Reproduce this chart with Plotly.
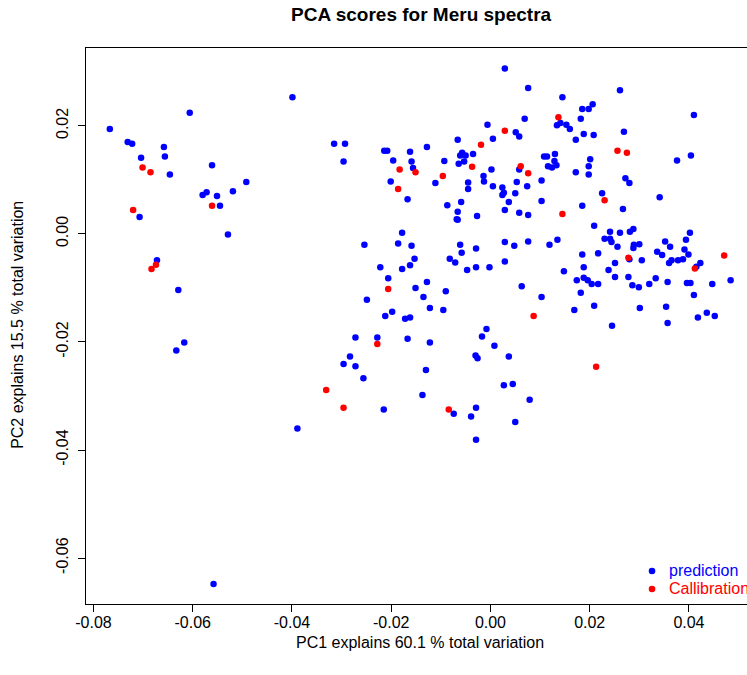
import plotly.graph_objects as go

# ---- data (PC scores) ----
prediction_pc1 = [
    -0.0767, -0.0731, -0.0722, -0.0658, -0.0656, -0.0704, -0.0646, -0.0606, -0.0561, -0.0492,
    -0.0519, -0.0580, -0.0572, -0.0551, -0.0545, -0.0707, -0.0529, -0.0672, -0.0629, -0.0617,
    -0.0633, -0.0389, -0.0558,
    -0.0399, -0.0315, -0.0293, -0.0296, -0.0214, -0.0208, -0.0162, -0.0128, -0.0196, -0.0159,
    -0.0156, -0.0201, -0.0167, -0.0178, -0.0254, -0.0186, -0.0159,
    0.0029, 0.0076, 0.0145, 0.0069, -0.0006, 0.0134, 0.0141, 0.0153, 0.0160, 0.0051,
    0.0058, 0.0005, -0.0066, -0.0057, -0.0061, -0.0050, -0.0053, -0.0064, -0.0035, -0.0093,
    0.0108, 0.0114, 0.0130, 0.0129, 0.0116, 0.0124, 0.0133, 0.0002, 0.0058, -0.0014,
    -0.0013, -0.0045, -0.0045, -0.0111, 0.0005, 0.0024, 0.0027, 0.0024, 0.0053, 0.0074,
    0.0103, 0.0050, 0.0037, -0.0059, -0.0087, -0.0066, -0.0068, -0.0066, -0.0027, 0.0029,
    0.0058, 0.0076, 0.0103, -0.0061, -0.0029, 0.0029, 0.0048, 0.0076, 0.0119, 0.0135,
    0.0261, 0.0185, 0.0198, 0.0206, 0.0182, 0.0172, 0.0188, 0.0208, 0.0269, 0.0410,
    0.0201, 0.0198, 0.0198, 0.0172, 0.0376, 0.0404, 0.0272, 0.0280, 0.0225, 0.0185,
    0.0267, 0.0341, 0.0209, 0.0241, 0.0230, 0.0241, 0.0244, 0.0261, 0.0281, 0.0288,
    0.0256, 0.0289, 0.0300, 0.0352, 0.0362, 0.0402, 0.0394,
    0.0288, 0.0391, 0.0399, 0.0336, 0.0346, 0.0185, 0.0217, 0.0251, 0.0305, 0.0280,
    0.0360, 0.0365, 0.0378, 0.0388, 0.0423, 0.0415, 0.0148, 0.0188, 0.0238, 0.0251,
    0.0278, 0.0174, 0.0188, 0.0196, 0.0204, 0.0217, 0.0286, 0.0299, 0.0320, 0.0333,
    0.0357, 0.0396, 0.0403, 0.0447, 0.0484, 0.0182, 0.0410, 0.0169, 0.0209, 0.0301,
    0.0354, 0.0436, 0.0418, 0.0452, 0.0245, 0.0357,
    -0.0153, -0.0162, -0.0178, -0.0222, -0.0206, -0.0128, -0.0151, -0.0135, -0.0249, -0.0122,
    -0.0198, -0.0212, -0.0172, -0.0162, -0.0272, -0.0228, -0.0167, -0.0122, -0.0283, -0.0296,
    -0.0272, -0.0256, -0.0130, -0.0137, -0.0215,
    -0.0058, -0.0082, -0.0071, -0.0047, -0.0029, -0.0002, 0.0029, -0.0090, 0.0063, 0.0103,
    -0.0095, -0.0008, -0.0017, 0.0008, -0.0030, -0.0026, 0.0037, 0.0027, 0.0045, 0.0079,
    -0.0074, -0.0029, -0.0039, 0.0050, -0.0029,
]
prediction_pc2 = [
    0.0194, 0.0170, 0.0167, 0.0161, 0.0143, 0.0141, 0.0110, 0.0224, 0.0127, 0.0096,
    0.0079, 0.0072, 0.0077, 0.0070, 0.0052, 0.0031, -0.0001, -0.0049, -0.0104, -0.0201,
    -0.0216, -0.0360, -0.0648,
    0.0253, 0.0167, 0.0167, 0.0134, 0.0154, 0.0154, 0.0152, 0.0161, 0.0136, 0.0134,
    0.0122, 0.0097, 0.0064, 0.0002, -0.0020, -0.0018, -0.0022,
    0.0306, 0.0270, 0.0253, 0.0213, 0.0202, 0.0201, 0.0205, 0.0202, 0.0194, 0.0188,
    0.0180, 0.0176, 0.0174, 0.0150, 0.0145, 0.0145, 0.0134, 0.0130, 0.0148, 0.0135,
    0.0143, 0.0143, 0.0148, 0.0135, 0.0125, 0.0123, 0.0127, 0.0119, 0.0119, 0.0107,
    0.0097, 0.0095, 0.0083, 0.0094, 0.0088, 0.0086, 0.0076, 0.0072, 0.0096, 0.0088,
    0.0099, 0.0075, 0.0059, 0.0059, 0.0053, 0.0041, 0.0027, 0.0026, 0.0033, 0.0044,
    0.0039, 0.0035, 0.0061, -0.0020, -0.0027, -0.0015, -0.0022, -0.0014, -0.0020, -0.0011,
    0.0266, 0.0231, 0.0231, 0.0240, 0.0213, 0.0174, 0.0185, 0.0183, 0.0189, 0.0220,
    0.0138, 0.0125, 0.0110, 0.0114, 0.0136, 0.0145, 0.0103, 0.0094, 0.0075, 0.0052,
    0.0046, 0.0068, 0.0015, 0.0004, -0.0009, -0.0009, -0.0015, 0.0002, 0.0004, 0.0009,
    -0.0024, -0.0020, -0.0019, -0.0014, -0.0024, 0.0002, -0.0011,
    -0.0026, -0.0029, -0.0038, -0.0033, -0.0039, -0.0038, -0.0036, -0.0054, -0.0049, -0.0047,
    -0.0054, -0.0049, -0.0049, -0.0047, -0.0054, -0.0061, -0.0069, -0.0062, -0.0067, -0.0080,
    -0.0080, -0.0086, -0.0081, -0.0086, -0.0093, -0.0093, -0.0095, -0.0099, -0.0093, -0.0082,
    -0.0089, -0.0091, -0.0091, -0.0093, -0.0086, -0.0109, -0.0113, -0.0141, -0.0133, -0.0137,
    -0.0135, -0.0146, -0.0155, -0.0152, -0.0170, -0.0165,
    -0.0046, -0.0058, -0.0065, -0.0062, -0.0082, -0.0089, -0.0100, -0.0117, -0.0122, -0.0137,
    -0.0144, -0.0152, -0.0157, -0.0155, -0.0192, -0.0192, -0.0194, -0.0201, -0.0227, -0.0241,
    -0.0245, -0.0267, -0.0252, -0.0298, -0.0325,
    -0.0035, -0.0046, -0.0053, -0.0067, -0.0062, -0.0062, -0.0051, -0.0106, -0.0097, -0.0117,
    -0.0141, -0.0176, -0.0190, -0.0207, -0.0225, -0.0230, -0.0227, -0.0280, -0.0278, -0.0307,
    -0.0333, -0.0322, -0.0338, -0.0348, -0.0381,
]
calibration_pc1 = [
    -0.0701, -0.0685, -0.0720, -0.0561, -0.0674, -0.0683, -0.0183, -0.0151, -0.0186, 0.0137,
    0.0029, -0.0019, -0.0037, -0.0096, 0.0061, 0.0076, 0.0145, 0.0256, 0.0275, 0.0230,
    0.0278, 0.0412, 0.0471, 0.0213, -0.0206, -0.0228, -0.0331, -0.0296, 0.0087, -0.0084,
]
calibration_pc2 = [
    0.0123, 0.0114, 0.0044, 0.0052, -0.0057, -0.0065, 0.0119, 0.0114, 0.0083, 0.0216,
    0.0191, 0.0165, 0.0124, 0.0107, 0.0125, 0.0112, 0.0037, 0.0154, 0.0150, 0.0062,
    -0.0044, -0.0064, -0.0040, -0.0246, -0.0102, -0.0204, -0.0289, -0.0322, -0.0152, -0.0325,
]

x_tick_vals = [-0.08, -0.06, -0.04, -0.02, 0.00, 0.02, 0.04]
x_tick_text = ["-0.08", "-0.06", "-0.04", "-0.02", "0.00", "0.02", "0.04"]
y_tick_vals = [-0.06, -0.04, -0.02, 0.00, 0.02]
y_tick_text = ["-0.06", "-0.04", "-0.02", "0.00", "0.02"]

title_text = "PCA scores for Meru spectra"
x_title = "PC1 explains 60.1 % total variation"
y_title = "PC2 explains 15.5 % total variation"
legend_names = ["prediction", "Callibration"]
colors = ["#0000FF", "#FF0000"]

FONT = "Liberation Sans, Arial, sans-serif"

fig = go.Figure()
fig.add_trace(go.Scatter(x=prediction_pc1, y=prediction_pc2, mode="markers",
                         marker=dict(color=colors[0], size=6.5, line=dict(width=0)),
                         name=legend_names[0], showlegend=False))
fig.add_trace(go.Scatter(x=calibration_pc1, y=calibration_pc2, mode="markers",
                         marker=dict(color=colors[1], size=6.5, line=dict(width=0)),
                         name=legend_names[1], showlegend=False))

axis_common = dict(showgrid=False, zeroline=False, showline=True, linecolor="black",
                   linewidth=1, ticks="outside", ticklen=7, tickwidth=1, tickcolor="black",
                   tickfont=dict(family=FONT, size=16, color="black"))

fig.update_xaxes(range=[-0.0815, 0.0517], tickvals=x_tick_vals, ticktext=x_tick_text,
                 mirror=True, ticklabelstandoff=-3, **axis_common)
fig.update_yaxes(range=[-0.0685, 0.0344], tickvals=y_tick_vals, ticktext=y_tick_text,
                 tickangle=-90, mirror=False, ticklabelstandoff=4, **axis_common)

annotations = [
    dict(text="<b>" + title_text + "</b>", x=0.507, y=1.061, xref="paper", yref="paper",
         showarrow=False, xanchor="center", yanchor="middle",
         font=dict(family=FONT, size=19, color="black")),
    dict(text=x_title, x=0.506, y=-0.0685, xref="paper", yref="paper", showarrow=False,
         xanchor="center", yanchor="middle", font=dict(family=FONT, size=16, color="black")),
    dict(text=y_title, x=-0.1029, y=0.502, xref="paper", yref="paper", showarrow=False,
         textangle=-90, xanchor="center", yanchor="middle",
         font=dict(family=FONT, size=16, color="black")),
]
shapes = []
leg_y = [0.0594, 0.0270]
for name, col, ly in zip(legend_names, colors, leg_y):
    annotations.append(dict(text=name, x=0.879, y=ly, xref="paper", yref="paper",
                            showarrow=False, xanchor="left", yanchor="middle",
                            font=dict(family=FONT, size=16, color=col)))
    shapes.append(dict(type="circle", xref="paper", yref="paper", xsizemode="pixel",
                       ysizemode="pixel", xanchor=0.8563, yanchor=ly, x0=-3.3, x1=3.3,
                       y0=-3.3, y1=3.3, fillcolor=col, line=dict(width=0)))

fig.update_layout(width=747, height=675, autosize=False,
                  margin=dict(l=86, r=0, t=48, b=71, pad=0),
                  plot_bgcolor="white", paper_bgcolor="white",
                  annotations=annotations, shapes=shapes, showlegend=False)

fig.write_html("out.html")
